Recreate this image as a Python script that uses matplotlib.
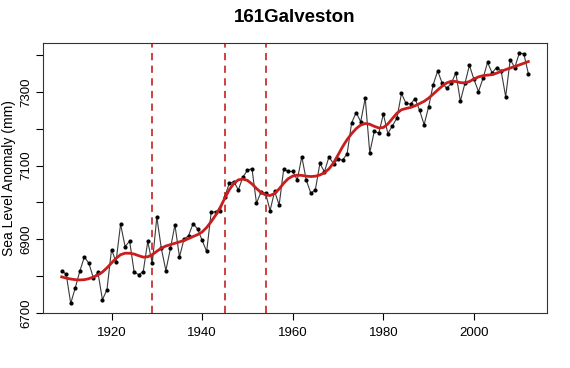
import numpy as np
import matplotlib
matplotlib.use("Agg")
import matplotlib.pyplot as plt

plt.rcParams['font.family'] = ['Liberation Sans', 'DejaVu Sans']

title = "161Galveston"
ylabel = "Sea Level Anomaly (mm)"
first_year = 1909
sea_level = [
    6815, 6805, 6726, 6768, 6813, 6852, 6835, 6795, 6810, 6736,   # 1909-1918
    6763, 6872, 6839, 6941, 6880, 6895, 6811, 6804, 6812, 6894,   # 1919-1928
    6835, 6960, 6875, 6815, 6875, 6939, 6852, 6900, 6910, 6942,   # 1929-1938
    6928, 6897, 6867, 6973, 6975, 6978, 7016, 7052, 7056, 7034,   # 1939-1948
    7069, 7087, 7092, 6998, 7028, 7025, 6978, 7030, 6993, 7090,   # 1949-1958
    7084, 7084, 7061, 7124, 7060, 7025, 7035, 7106, 7083, 7124,   # 1959-1968
    7105, 7117, 7115, 7132, 7216, 7244, 7219, 7283, 7135, 7193,   # 1969-1978
    7188, 7240, 7187, 7208, 7229, 7296, 7269, 7267, 7282, 7250,   # 1979-1988
    7211, 7260, 7320, 7357, 7323, 7310, 7323, 7352, 7275, 7323,   # 1989-1998
    7372, 7334, 7301, 7337, 7380, 7352, 7366, 7357, 7287, 7388,   # 1999-2008
    7366, 7405, 7404, 7350,                                       # 2009-2012
]
breakpoints = [1929, 1945, 1954]
xticks = [1920, 1940, 1960, 1980, 2000]
yticks = [6700, 6800, 6900, 7000, 7100, 7200, 7300, 7400]
ytick_labels = ["6700", "", "6900", "", "7100", "", "7300", ""]

years = np.arange(first_year, first_year + len(sea_level))
vals = np.array(sea_level, dtype=float)


def loess(x, y, span=0.15, degree=2):
    n = len(x)
    k = int(np.ceil(span * n))
    out = np.empty(n)
    for i, x0 in enumerate(x):
        d = np.abs(x - x0)
        h = np.sort(d)[k - 1]
        w = np.clip(1 - (d / (h * 1.0001)) ** 3, 0, None) ** 3
        A = np.vander(x - x0, degree + 1)
        W = np.sqrt(w)
        coef, *_ = np.linalg.lstsq(A * W[:, None], y * W, rcond=None)
        out[i] = coef[-1]
    return out


smooth = loess(years.astype(float), vals, span=0.17, degree=2)

fig = plt.figure(figsize=(5.70, 3.68), dpi=100)
ax = fig.add_axes([43 / 570, 1 - 313.3 / 368, (547 - 43) / 570, (313.3 - 43.3) / 368])

ax.plot(years, vals, color="#3a3a3a", lw=0.8, zorder=2)
ax.plot(years, vals, 'o', color="black", ms=2.0, zorder=3)
ax.plot(years, smooth, color="#c81e1e", lw=2.0, zorder=4)
for b in breakpoints:
    ax.axvline(b, color="#c83232", lw=1.3, ls=(0, (4, 3)), zorder=1)

ax.set_xlim(1904.88, 2016.12)
ax.set_ylim(6699, 7432)
ax.set_xticks(xticks)
ax.set_xticklabels([str(t) for t in xticks], fontsize=9.5)
ax.set_yticks(yticks)
ax.set_yticklabels(ytick_labels, fontsize=9.5, rotation=90, va='center')
ax.tick_params(direction='out', length=5, width=0.8)
ax.tick_params(axis='x', pad=5)
ax.tick_params(axis='y', pad=3)
ax.set_ylabel(ylabel, fontsize=10, labelpad=3)
fig.text(295 / 570, 1 - 18 / 368, title, fontsize=13.5, fontweight='bold',
         ha='center', va='center')
for s in ax.spines.values():
    s.set_linewidth(0.8)
    s.set_color("#333333")

fig.savefig("out.png", dpi=100)
